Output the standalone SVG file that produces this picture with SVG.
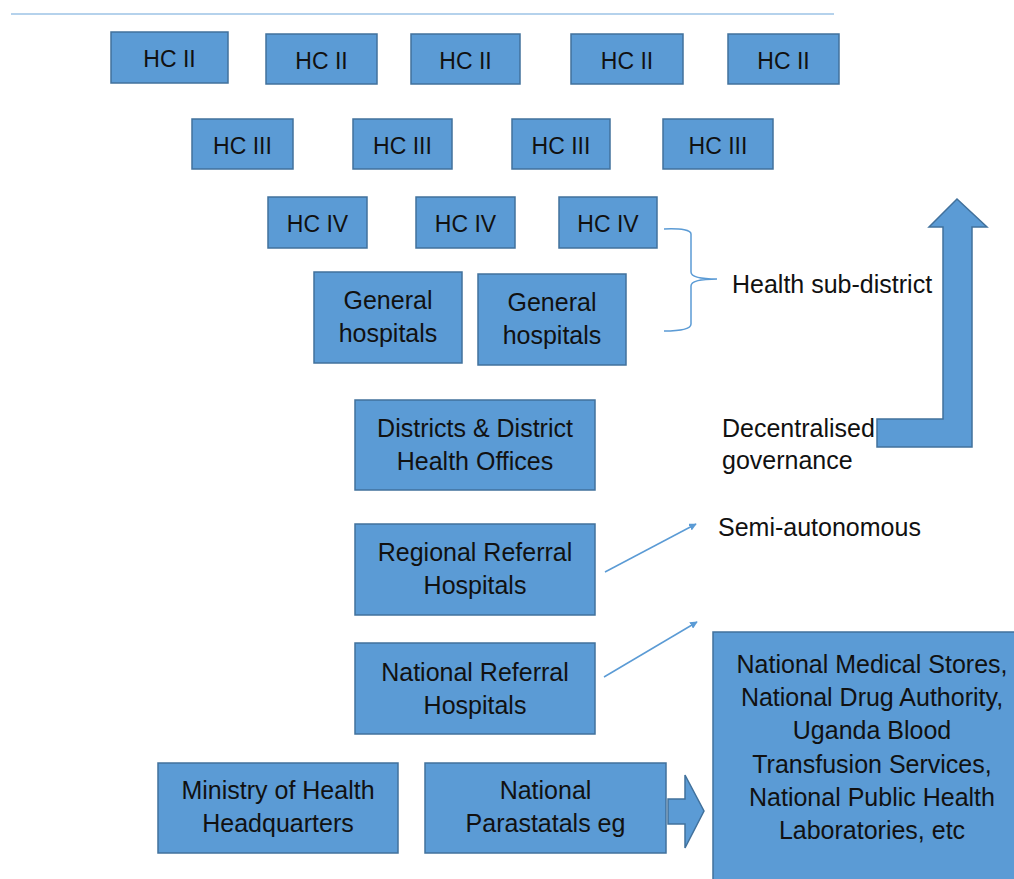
<svg xmlns="http://www.w3.org/2000/svg" width="1014" height="879" viewBox="0 0 1014 879">
<style>
.box{fill:#5b9bd5;stroke:#41719c;stroke-width:1.5}
.t{font-family:"Liberation Sans",Arial,sans-serif;font-size:25px;fill:#111;text-anchor:middle}
.h{font-family:"Liberation Sans",Arial,sans-serif;font-size:23px;fill:#111;text-anchor:middle}
.l{font-family:"Liberation Sans",Arial,sans-serif;font-size:25px;fill:#111}
.con{fill:none;stroke:#5b9bd5;stroke-width:1.5}
</style>
<defs>
<marker id="ah" viewBox="0 0 10 10" refX="9" refY="5" markerWidth="5" markerHeight="5" orient="auto">
<path d="M0,0 L10,5 L0,10 z" fill="#5b9bd5"/>
</marker>
</defs>
<rect width="1014" height="879" fill="#fff"/>
<line x1="11" y1="14" x2="834" y2="14" stroke="#9dc3e6" stroke-width="1.5"/>

<g id="hc2-1"><rect class="box" x="111" y="32" width="117" height="51"/><text class="h" x="169.5" y="67">HC II</text></g>
<g id="hc2-2"><rect class="box" x="266" y="34" width="111" height="50"/><text class="h" x="321.5" y="69">HC II</text></g>
<g id="hc2-3"><rect class="box" x="411" y="34" width="109" height="50"/><text class="h" x="465.5" y="69">HC II</text></g>
<g id="hc2-4"><rect class="box" x="571" y="34" width="112" height="50"/><text class="h" x="627" y="69">HC II</text></g>
<g id="hc2-5"><rect class="box" x="728" y="34" width="111" height="50"/><text class="h" x="783.5" y="69">HC II</text></g>

<g id="hc3-1"><rect class="box" x="192" y="119" width="101" height="50"/><text class="h" x="242.5" y="154">HC III</text></g>
<g id="hc3-2"><rect class="box" x="353" y="119" width="99" height="50"/><text class="h" x="402.5" y="154">HC III</text></g>
<g id="hc3-3"><rect class="box" x="512" y="119" width="98" height="50"/><text class="h" x="561" y="154">HC III</text></g>
<g id="hc3-4"><rect class="box" x="663" y="119" width="110" height="50"/><text class="h" x="718" y="154">HC III</text></g>

<g id="hc4-1"><rect class="box" x="268" y="197" width="99" height="51"/><text class="h" x="317.5" y="232">HC IV</text></g>
<g id="hc4-2"><rect class="box" x="416" y="197" width="99" height="51"/><text class="h" x="465.5" y="232">HC IV</text></g>
<g id="hc4-3"><rect class="box" x="559" y="197" width="98" height="51"/><text class="h" x="608" y="232">HC IV</text></g>

<g id="gh-1"><rect class="box" x="314" y="272" width="148" height="91"/><text class="t" x="388" y="309">General</text><text class="t" x="388" y="342">hospitals</text></g>
<g id="gh-2"><rect class="box" x="478" y="274" width="148" height="91"/><text class="t" x="552" y="311">General</text><text class="t" x="552" y="344">hospitals</text></g>

<g id="districts"><rect class="box" x="355" y="400" width="240" height="90"/><text class="t" x="475" y="437">Districts &amp; District</text><text class="t" x="475" y="470">Health Offices</text></g>
<g id="regional"><rect class="box" x="355" y="524" width="240" height="91"/><text class="t" x="475" y="561">Regional Referral</text><text class="t" x="475" y="594">Hospitals</text></g>
<g id="national"><rect class="box" x="355" y="643" width="240" height="91"/><text class="t" x="475" y="681">National Referral</text><text class="t" x="475" y="714">Hospitals</text></g>
<g id="ministry"><rect class="box" x="158" y="763" width="240" height="90"/><text class="t" x="278" y="799">Ministry of Health</text><text class="t" x="278" y="832">Headquarters</text></g>
<g id="parastatals"><rect class="box" x="425" y="763" width="241" height="90"/><text class="t" x="545.5" y="799">National</text><text class="t" x="545.5" y="832">Parastatals eg</text></g>
<g id="agencies"><rect class="box" x="713" y="632" width="302" height="250"/>
<text class="t" x="872" y="673">National Medical Stores,</text>
<text class="t" x="872" y="706">National Drug Authority,</text>
<text class="t" x="872" y="739">Uganda Blood</text>
<text class="t" x="872" y="773">Transfusion Services,</text>
<text class="t" x="872" y="806">National Public Health</text>
<text class="t" x="872" y="839">Laboratories, etc</text>
</g>

<g id="labels">
<text class="l" x="732" y="293">Health sub-district</text>
<text class="l" x="722" y="437">Decentralised</text>
<text class="l" x="722" y="469">governance</text>
<text class="l" x="718" y="536">Semi-autonomous</text>
</g>

<g id="connectors">
<path class="con" d="M664,229 Q691,228 691,234 L691,272 Q691,279 717,279 Q691,279 691,286 L691,324 Q691,331 664,331"/>
<line class="con" x1="605" y1="572" x2="696" y2="524" marker-end="url(#ah)"/>
<line class="con" x1="604" y1="677" x2="697" y2="622" marker-end="url(#ah)"/>
<path d="M877,419 L943,419 L943,227 L929,227 L957,199 L987,227 L972,227 L972,447 L877,447 Z" fill="#5b9bd5" stroke="#41719c" stroke-width="1.5"/>
<path d="M668,799 L685,799 L685,775 L704,811 L685,848 L685,824 L668,824 Z" fill="#5b9bd5" stroke="#41719c" stroke-width="1.5"/>
</g>
</svg>
